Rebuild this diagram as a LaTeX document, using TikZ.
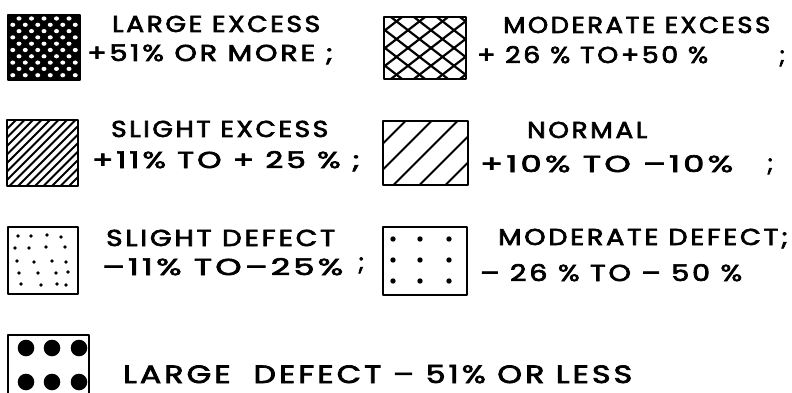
\documentclass[tikz,border=0pt]{standalone}
\usepackage{fontspec}
\setmainfont{Poppins}[LetterSpace=10, FakeBold=2.8]
\usepackage{graphicx}
\newcommand\fitw[2]{\resizebox{#1pt}{\height}{#2}}
\begin{document}
\begin{tikzpicture}[x=1pt,y=-1pt,
  lbl/.style={anchor=base west, inner sep=0pt, font=\fontsize{23}{25}\selectfont},
  biglbl/.style={lbl, font=\fontsize{25}{27}\selectfont},
  frame/.style={draw, line width=2.4pt, line join=round, inner sep=0pt, outer sep=0pt},
  hatch/.style={line width=2pt},
  dot/.style={fill=black}]
\useasboundingbox (0,0) rectangle (792,393);
\begin{scope}
\clip (0,0) rectangle (792,393);

% ---------- patterns ----------
% large excess: black ground with white holes on a diagonal lattice
\begin{scope}
  \clip (8,15) rectangle (80,80);
  \fill[black] (8,15) rectangle (80,80);
  \foreach \j in {0,...,10}{
    \pgfmathsetmacro\off{mod(\j,2)*6.25}
    \foreach \i in {0,...,6}{
      \fill[white] (6.5+\off+12.5*\i,18.5+6.3*\j) ellipse (2.5 and 2.1);
    }
  }
\end{scope}
% moderate excess: open crosshatch
\begin{scope}
  \clip (384,17) rectangle (466,79);
  \foreach \c in {-132,-109,...,132}{
    \draw[line width=2.2pt] (425+\c-55,48-42.5) -- (425+\c+55,48+42.5);
    \draw[line width=2.2pt] (425+\c-55,48+42.5) -- (425+\c+55,48-42.5);
  }
\end{scope}
% slight excess: dense diagonals
\begin{scope}
  \clip (7,120) rectangle (78,186);
  \foreach \c in {-85,-76.5,...,85}{
    \draw[hatch] (42.5+\c-45,153+45) -- (42.5+\c+45,153-45);
  }
\end{scope}
% normal: sparse diagonals
\begin{scope}
  \clip (383,121) rectangle (468,185);
  \foreach \c in {-78,-52,-26,0,26,52,78}{
    \draw[line width=2.1pt] (425.5+\c-45,153+45) -- (425.5+\c+45,153-45);
  }
\end{scope}
% slight defect: fine dots
\foreach \p in {(18,236),(31,236),(47,235),(61,237),
                (15,248),(29,248),(46,247),(65,247),
                (17,261),(34,262),(52,261),(66,262),
                (19,273),(38,273),(56,273),(68,272),
                (21,284),(41,285),(57,284),(66,285)}{
  \fill[dot] \p circle (1.8);
}
% moderate defect: 3x3 dots
\foreach \x in {393,420,449}{
  \foreach \y in {239,260,281}{
    \fill[dot] (\x,\y) circle (2.7);
  }
}
% large defect: big dots
\foreach \x in {26,52,79}{
  \foreach \y in {348,382}{
    \fill[dot] (\x,\y) circle (8.3);
  }
}

% ---------- frames ----------
\node[frame, minimum width=72pt, minimum height=65pt] (b1) at (44,47.5) {};
\node[frame, minimum width=82pt, minimum height=62pt] (b2) at (425,48) {};
\node[frame, minimum width=71pt, minimum height=66pt] (b3) at (42.5,153) {};
\node[frame, minimum width=85pt, minimum height=64pt] (b4) at (425.5,153) {};
\node[frame, minimum width=70pt, minimum height=67pt] (b5) at (43,260.5) {};
\node[frame, minimum width=84pt, minimum height=68pt] (b6) at (425,261) {};
\node[frame, minimum width=81pt, minimum height=70pt] (b7) at (48.5,370) {};

% ---------- labels ----------
\node[lbl] (t1a) at (112,32) {\fitw{208}{LARGE EXCESS}};
\node[lbl] (t1b) at (87,61) {\fitw{246}{+51\% OR MORE ;}};

\node[lbl] (t2a) at (503,33) {\fitw{267}{MODERATE EXCESS}};
\node[lbl] (t2b) at (477,63) {\fitw{231}{+ 26 \% TO+50 \%}};
\node[lbl] (t2c) at (779,63) {;};

\node[lbl] (t3a) at (111,137) {\fitw{217}{SLIGHT EXCESS}};
\node[lbl] (t3b) at (92,168) {\fitw{268}{+11\% TO + 25 \% ;}};

\node[lbl] (t4a) at (527,138) {\fitw{120}{NORMAL}};
\node[lbl] (t4b) at (480,172) {\fitw{253}{+10\% TO –10\%}};
\node[lbl] (t4c) at (767,171) {;};

\node[lbl] (t5a) at (106,246) {\fitw{229}{SLIGHT DEFECT}};
\node[lbl] (t5b) at (102,275) {\fitw{241}{–11\% TO–25\%}};
\node[lbl] (t5c) at (358,270) {;};

\node[lbl] (t6a) at (498,245) {\fitw{290}{MODERATE DEFECT;}};
\node[lbl] (t6b) at (480,281) {\fitw{262}{– 26 \% TO – 50 \%}};

\node[biglbl] (t7) at (123,383) {\fitw{509}{LARGE\ \ DEFECT – 51\% OR LESS}};
\end{scope}
\end{tikzpicture}
\end{document}
